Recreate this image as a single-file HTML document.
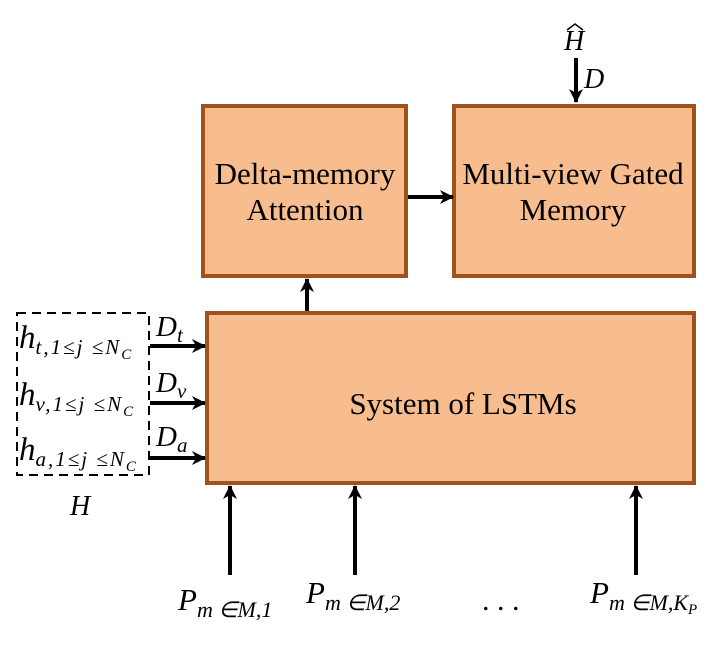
<!DOCTYPE html>
<html><head><style>
body{margin:0;background:#fff;}
svg text{font-family:"Liberation Serif",serif;fill:#000;}
.it{font-style:italic;}
.sb{letter-spacing:2px;}
</style></head><body>
<svg width="722" height="640" viewBox="0 0 722 640" xmlns="http://www.w3.org/2000/svg">
<defs><marker id="a" markerWidth="14" markerHeight="14" refX="13" refY="7" orient="auto" markerUnits="userSpaceOnUse"><path d="M0,0 L14,7 L0,14 L4,7 Z" fill="#000"/></marker></defs>
<g fill="#F8BD8E" stroke="#A0521C" stroke-width="4">
<rect x="203" y="106" width="203" height="170"/>
<rect x="454" y="106" width="240" height="170"/>
<rect x="207" y="313" width="487" height="170"/>
</g>
<rect x="17" y="313" width="132" height="162" fill="none" stroke="#000" stroke-width="2" stroke-dasharray="9,6"/>
<g stroke="#000" stroke-width="4" fill="none" marker-end="url(#a)">
<line x1="576" y1="58" x2="576" y2="102"/>
<line x1="408" y1="197" x2="453" y2="197"/>
<line x1="307" y1="311" x2="307" y2="279"/>
<line x1="150" y1="346" x2="205" y2="346"/>
<line x1="150" y1="403" x2="205" y2="403"/>
<line x1="150" y1="458" x2="205" y2="458"/>
<line x1="230" y1="575" x2="230" y2="486"/>
<line x1="355" y1="575" x2="355" y2="486"/>
<line x1="636" y1="575" x2="636" y2="486"/>
</g>
<g font-size="31" text-anchor="middle">
<text x="305" y="184">Delta-memory</text>
<text x="305" y="220">Attention</text>
<text x="573" y="184">Multi-view Gated</text>
<text x="573" y="220">Memory</text>
<text x="463" y="414">System of LSTMs</text>
</g>
<path d="M567,30 L575,24 L583,30" fill="none" stroke="#000" stroke-width="1.5"/>
<g class="it" font-size="28">
<text x="564" y="50">H</text>
<text x="584" y="88">D</text>
<text x="70" y="515">H</text>
<text x="156" y="336" font-size="29">D<tspan font-size="21" dy="6">t</tspan></text>
<text x="156" y="392" font-size="29">D<tspan font-size="21" dy="6">v</tspan></text>
<text x="156" y="446" font-size="29">D<tspan font-size="21" dy="6">a</tspan></text>
<text x="19" y="348" font-size="33">h<tspan class="sb" font-size="21" dy="6">t,1≤j ≤N<tspan font-size="15" dy="5">C</tspan></tspan></text>
<text x="19" y="405" font-size="33">h<tspan class="sb" font-size="21" dy="6">v,1≤j ≤N<tspan font-size="15" dy="5">C</tspan></tspan></text>
<text x="19" y="460" font-size="33">h<tspan class="sb" font-size="21" dy="6">a,1≤j ≤N<tspan font-size="15" dy="5">C</tspan></tspan></text>
<text x="178" y="610" font-size="31">P<tspan font-size="22" dy="7">m ∈M,1</tspan></text>
<text x="306" y="603" font-size="31">P<tspan font-size="22" dy="7">m ∈M,2</tspan></text>
<text x="590" y="603" font-size="31">P<tspan font-size="22" dy="7">m ∈M,K<tspan font-size="15" dy="4">P</tspan></tspan></text>
</g>
<text x="482" y="610" font-size="30" style="font-family:'Liberation Serif',serif">. . .</text>
</svg>
</body></html>
